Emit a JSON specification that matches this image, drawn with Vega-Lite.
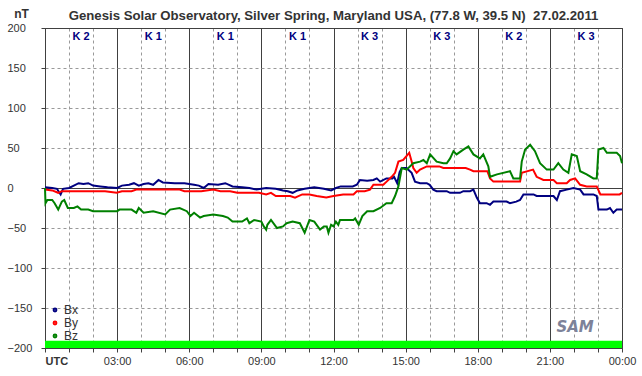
{
"$schema": "https://vega.github.io/schema/vega-lite/v6.json",
"width": 577, "height": 320,
"autosize": {"type": "none"},
"padding": {"left": 45, "top": 28, "right": 20, "bottom": 28},
"background": "white",
"config": {"view": {"stroke": "#404040", "strokeWidth": 1}, "font": "Liberation Sans"},
"title": {"text": "Genesis Solar Observatory, Silver Spring, Maryland USA, (77.8 W, 39.5 N)\u00a0 27.02.2011", "fontSize": 13.2, "fontWeight": "bold", "color": "#333333", "anchor": "middle", "frame": "group", "baseline": "alphabetic", "offset": -26, "font": "Liberation Sans"},
"encoding": {
 "x": {"field": "t", "type": "quantitative", "scale": {"domain": [0, 24], "nice": false, "zero": false},
  "axis": {"values": [0,1,2,3,4,5,6,7,8,9,10,11,12,13,14,15,16,17,18,19,20,21,22,23,24], "title": null,
   "labelExpr": "datum.value == 0 ? 'UTC' : (datum.value % 3 == 0 ? (((datum.value % 24) < 10 ? '0' : '') + (datum.value % 24) + ':00') : '')",
   "labelAlign": {"condition": {"test": "datum.value == 0", "value": "left"}, "value": "center"},
   "labelFontWeight": {"condition": {"test": "datum.value == 0", "value": "bold"}, "value": "normal"},
   "labelFlush": false, "labelOverlap": false, "labelFontSize": 11, "labelColor": "#333333", "labelPadding": 3,
   "tickSize": 4, "tickColor": "#404040", "domainColor": "#404040", "grid": true,
   "gridColor": {"condition": {"test": "datum.value % 3 == 0", "value": "#404040"}, "value": "#999999"},
   "gridDash": {"condition": {"test": "datum.value % 3 == 0", "value": []}, "value": [3, 3]}}},
 "y": {"field": "v", "type": "quantitative", "scale": {"domain": [-200, 200], "nice": false},
  "axis": {"values": [-200,-150,-100,-50,0,50,100,150,200], "title": "nT", "titleAngle": 0, "titleX": -24, "titleY": -15,
   "titleAlign": "center", "titleBaseline": "middle", "titleFontWeight": "bold", "titleFontSize": 12, "titleColor": "#333333",
   "labelAlign": "left", "labelPadding": 34, "labelFontSize": 11, "labelColor": "#333333", "labelBaseline": "middle",
   "tickSize": 4, "tickColor": "#404040", "domainColor": "#404040", "grid": true,
   "gridColor": {"condition": {"test": "datum.value == 0 || abs(datum.value) == 200", "value": "#404040"}, "value": "#999999"},
   "gridDash": {"condition": {"test": "datum.value == 0 || abs(datum.value) == 200", "value": []}, "value": [3, 3]}}}
},
"layer": [
 {"data": {"values": [{"t": 0, "t2": 24, "v": -200, "v2": -191}]},
  "mark": {"type": "rect", "color": "#00FF00"},
  "encoding": {"x2": {"field": "t2"}, "y2": {"field": "v2"}}},
 {"data": {"values": [
{"t":0,"s":"Bx","v":1},{"t":0.3,"s":"Bx","v":0},{"t":0.5,"s":"Bx","v":-1},{"t":0.58,"s":"Bx","v":-5},{"t":0.65,"s":"Bx","v":-8},{"t":0.75,"s":"Bx","v":-1},{"t":1.0,"s":"Bx","v":0},{"t":1.2,"s":"Bx","v":3},{"t":1.4,"s":"Bx","v":6},{"t":1.6,"s":"Bx","v":5},{"t":1.8,"s":"Bx","v":6},{"t":2.0,"s":"Bx","v":3},{"t":2.3,"s":"Bx","v":2},{"t":2.6,"s":"Bx","v":1},{"t":3.0,"s":"Bx","v":0},{"t":3.2,"s":"Bx","v":3},{"t":3.5,"s":"Bx","v":4},{"t":3.7,"s":"Bx","v":6},{"t":3.9,"s":"Bx","v":3},{"t":4.1,"s":"Bx","v":5},{"t":4.3,"s":"Bx","v":6},{"t":4.5,"s":"Bx","v":4},{"t":4.72,"s":"Bx","v":10},{"t":4.9,"s":"Bx","v":7},{"t":5.4,"s":"Bx","v":6},{"t":5.8,"s":"Bx","v":6},{"t":6.2,"s":"Bx","v":4},{"t":6.4,"s":"Bx","v":3},{"t":6.6,"s":"Bx","v":0},{"t":6.8,"s":"Bx","v":5},{"t":7.2,"s":"Bx","v":4},{"t":7.5,"s":"Bx","v":6},{"t":7.8,"s":"Bx","v":2},{"t":8.2,"s":"Bx","v":1},{"t":8.5,"s":"Bx","v":0},{"t":8.8,"s":"Bx","v":-2},{"t":9.2,"s":"Bx","v":0},{"t":9.6,"s":"Bx","v":-1},{"t":9.9,"s":"Bx","v":-3},{"t":10.1,"s":"Bx","v":-4},{"t":10.3,"s":"Bx","v":-6},{"t":10.5,"s":"Bx","v":-3},{"t":10.8,"s":"Bx","v":-1},{"t":11.2,"s":"Bx","v":1},{"t":11.6,"s":"Bx","v":-1},{"t":11.9,"s":"Bx","v":-3},{"t":12.1,"s":"Bx","v":0},{"t":12.3,"s":"Bx","v":2},{"t":12.8,"s":"Bx","v":2},{"t":12.97,"s":"Bx","v":4},{"t":13.1,"s":"Bx","v":10},{"t":13.4,"s":"Bx","v":9},{"t":13.66,"s":"Bx","v":10},{"t":13.8,"s":"Bx","v":12},{"t":13.94,"s":"Bx","v":8},{"t":14.2,"s":"Bx","v":12},{"t":14.45,"s":"Bx","v":12},{"t":14.52,"s":"Bx","v":14},{"t":14.65,"s":"Bx","v":6},{"t":14.75,"s":"Bx","v":20},{"t":14.84,"s":"Bx","v":25},{"t":15.04,"s":"Bx","v":25},{"t":15.1,"s":"Bx","v":23},{"t":15.25,"s":"Bx","v":19},{"t":15.39,"s":"Bx","v":8},{"t":15.6,"s":"Bx","v":6},{"t":15.88,"s":"Bx","v":6},{"t":16.0,"s":"Bx","v":4},{"t":16.15,"s":"Bx","v":-2},{"t":16.29,"s":"Bx","v":-4},{"t":16.71,"s":"Bx","v":-4},{"t":16.85,"s":"Bx","v":-6},{"t":17.26,"s":"Bx","v":-6},{"t":17.4,"s":"Bx","v":-4},{"t":17.68,"s":"Bx","v":-4},{"t":17.82,"s":"Bx","v":-2},{"t":17.96,"s":"Bx","v":-12},{"t":18.09,"s":"Bx","v":-19},{"t":18.37,"s":"Bx","v":-19},{"t":18.51,"s":"Bx","v":-21},{"t":18.65,"s":"Bx","v":-17},{"t":19.2,"s":"Bx","v":-17},{"t":19.34,"s":"Bx","v":-19},{"t":19.6,"s":"Bx","v":-17},{"t":19.76,"s":"Bx","v":-15},{"t":19.9,"s":"Bx","v":-8},{"t":20.32,"s":"Bx","v":-8},{"t":20.45,"s":"Bx","v":-10},{"t":21.15,"s":"Bx","v":-10},{"t":21.29,"s":"Bx","v":-15},{"t":21.42,"s":"Bx","v":-4},{"t":21.7,"s":"Bx","v":-2},{"t":21.98,"s":"Bx","v":0},{"t":22.26,"s":"Bx","v":-2},{"t":22.4,"s":"Bx","v":-8},{"t":22.81,"s":"Bx","v":-8},{"t":22.95,"s":"Bx","v":-10},{"t":23.02,"s":"Bx","v":-27},{"t":23.37,"s":"Bx","v":-27},{"t":23.5,"s":"Bx","v":-25},{"t":23.64,"s":"Bx","v":-31},{"t":23.78,"s":"Bx","v":-27},{"t":24,"s":"Bx","v":-27},
{"t":0,"s":"By","v":-2},{"t":0.3,"s":"By","v":-3},{"t":0.55,"s":"By","v":-6},{"t":0.7,"s":"By","v":-4},{"t":1.5,"s":"By","v":-4},{"t":2.5,"s":"By","v":-4},{"t":2.98,"s":"By","v":-6},{"t":3.2,"s":"By","v":-4},{"t":3.6,"s":"By","v":-4},{"t":3.8,"s":"By","v":-2},{"t":5.0,"s":"By","v":-2},{"t":5.6,"s":"By","v":-2},{"t":5.8,"s":"By","v":-4},{"t":6.5,"s":"By","v":-4},{"t":7.0,"s":"By","v":-2},{"t":7.3,"s":"By","v":-4},{"t":7.7,"s":"By","v":-4},{"t":8.0,"s":"By","v":-6},{"t":8.9,"s":"By","v":-6},{"t":9.2,"s":"By","v":-8},{"t":9.4,"s":"By","v":-6},{"t":9.6,"s":"By","v":-10},{"t":10.2,"s":"By","v":-10},{"t":10.4,"s":"By","v":-12},{"t":10.7,"s":"By","v":-8},{"t":11.0,"s":"By","v":-8},{"t":11.3,"s":"By","v":-10},{"t":11.7,"s":"By","v":-12},{"t":12.0,"s":"By","v":-10},{"t":12.4,"s":"By","v":-8},{"t":12.83,"s":"By","v":-8},{"t":12.97,"s":"By","v":-4},{"t":13.3,"s":"By","v":-4},{"t":13.52,"s":"By","v":-2},{"t":13.66,"s":"By","v":4},{"t":14.07,"s":"By","v":4},{"t":14.21,"s":"By","v":8},{"t":14.42,"s":"By","v":14},{"t":14.56,"s":"By","v":19},{"t":14.7,"s":"By","v":33},{"t":14.9,"s":"By","v":35},{"t":15.15,"s":"By","v":44},{"t":15.25,"s":"By","v":33},{"t":15.32,"s":"By","v":25},{"t":15.46,"s":"By","v":19},{"t":15.6,"s":"By","v":23},{"t":15.88,"s":"By","v":27},{"t":16.4,"s":"By","v":27},{"t":16.57,"s":"By","v":25},{"t":17.5,"s":"By","v":25},{"t":17.68,"s":"By","v":23},{"t":17.82,"s":"By","v":21},{"t":18.4,"s":"By","v":21},{"t":18.51,"s":"By","v":12},{"t":18.65,"s":"By","v":8},{"t":19.76,"s":"By","v":8},{"t":19.83,"s":"By","v":19},{"t":20.3,"s":"By","v":23},{"t":20.45,"s":"By","v":14},{"t":20.73,"s":"By","v":10},{"t":21.15,"s":"By","v":10},{"t":21.29,"s":"By","v":6},{"t":21.7,"s":"By","v":6},{"t":21.84,"s":"By","v":10},{"t":22.05,"s":"By","v":12},{"t":22.26,"s":"By","v":4},{"t":22.53,"s":"By","v":2},{"t":22.95,"s":"By","v":2},{"t":23.1,"s":"By","v":-8},{"t":23.9,"s":"By","v":-8},{"t":24,"s":"By","v":-6},
{"t":0,"s":"Bz","v":0},{"t":0.02,"s":"Bz","v":-19},{"t":0.1,"s":"Bz","v":-15},{"t":0.3,"s":"Bz","v":-15},{"t":0.4,"s":"Bz","v":-19},{"t":0.55,"s":"Bz","v":-27},{"t":0.7,"s":"Bz","v":-17},{"t":0.8,"s":"Bz","v":-15},{"t":0.95,"s":"Bz","v":-25},{"t":1.2,"s":"Bz","v":-25},{"t":1.35,"s":"Bz","v":-23},{"t":1.5,"s":"Bz","v":-27},{"t":1.8,"s":"Bz","v":-27},{"t":2.0,"s":"Bz","v":-29},{"t":2.5,"s":"Bz","v":-29},{"t":3.0,"s":"Bz","v":-29},{"t":3.1,"s":"Bz","v":-27},{"t":3.6,"s":"Bz","v":-27},{"t":3.8,"s":"Bz","v":-31},{"t":3.9,"s":"Bz","v":-25},{"t":4.1,"s":"Bz","v":-31},{"t":4.5,"s":"Bz","v":-29},{"t":5.0,"s":"Bz","v":-33},{"t":5.2,"s":"Bz","v":-27},{"t":5.6,"s":"Bz","v":-25},{"t":5.9,"s":"Bz","v":-29},{"t":6.05,"s":"Bz","v":-35},{"t":6.2,"s":"Bz","v":-31},{"t":6.45,"s":"Bz","v":-37},{"t":6.6,"s":"Bz","v":-35},{"t":7.0,"s":"Bz","v":-33},{"t":7.4,"s":"Bz","v":-35},{"t":7.6,"s":"Bz","v":-37},{"t":7.8,"s":"Bz","v":-42},{"t":8.2,"s":"Bz","v":-42},{"t":8.4,"s":"Bz","v":-38},{"t":8.5,"s":"Bz","v":-44},{"t":8.7,"s":"Bz","v":-40},{"t":9.0,"s":"Bz","v":-42},{"t":9.1,"s":"Bz","v":-48},{"t":9.2,"s":"Bz","v":-52},{"t":9.25,"s":"Bz","v":-46},{"t":9.4,"s":"Bz","v":-40},{"t":9.65,"s":"Bz","v":-50},{"t":9.9,"s":"Bz","v":-48},{"t":10.05,"s":"Bz","v":-44},{"t":10.3,"s":"Bz","v":-42},{"t":10.6,"s":"Bz","v":-44},{"t":10.8,"s":"Bz","v":-56},{"t":11.0,"s":"Bz","v":-40},{"t":11.2,"s":"Bz","v":-42},{"t":11.44,"s":"Bz","v":-52},{"t":11.6,"s":"Bz","v":-48},{"t":11.72,"s":"Bz","v":-48},{"t":11.79,"s":"Bz","v":-56},{"t":11.9,"s":"Bz","v":-46},{"t":12.0,"s":"Bz","v":-48},{"t":12.1,"s":"Bz","v":-42},{"t":12.2,"s":"Bz","v":-46},{"t":12.27,"s":"Bz","v":-40},{"t":12.6,"s":"Bz","v":-40},{"t":12.83,"s":"Bz","v":-40},{"t":12.9,"s":"Bz","v":-38},{"t":13.05,"s":"Bz","v":-46},{"t":13.2,"s":"Bz","v":-35},{"t":13.4,"s":"Bz","v":-29},{"t":13.66,"s":"Bz","v":-29},{"t":13.94,"s":"Bz","v":-25},{"t":14.2,"s":"Bz","v":-19},{"t":14.42,"s":"Bz","v":-19},{"t":14.56,"s":"Bz","v":-10},{"t":14.7,"s":"Bz","v":2},{"t":14.84,"s":"Bz","v":25},{"t":15.04,"s":"Bz","v":23},{"t":15.32,"s":"Bz","v":31},{"t":15.6,"s":"Bz","v":33},{"t":15.74,"s":"Bz","v":35},{"t":15.88,"s":"Bz","v":31},{"t":16.02,"s":"Bz","v":42},{"t":16.29,"s":"Bz","v":33},{"t":16.57,"s":"Bz","v":31},{"t":16.71,"s":"Bz","v":31},{"t":16.85,"s":"Bz","v":37},{"t":16.99,"s":"Bz","v":46},{"t":17.12,"s":"Bz","v":42},{"t":17.4,"s":"Bz","v":48},{"t":17.61,"s":"Bz","v":52},{"t":17.82,"s":"Bz","v":42},{"t":18.09,"s":"Bz","v":37},{"t":18.23,"s":"Bz","v":42},{"t":18.44,"s":"Bz","v":27},{"t":18.51,"s":"Bz","v":14},{"t":18.8,"s":"Bz","v":17},{"t":19.34,"s":"Bz","v":21},{"t":19.48,"s":"Bz","v":12},{"t":19.76,"s":"Bz","v":12},{"t":19.83,"s":"Bz","v":33},{"t":19.97,"s":"Bz","v":48},{"t":20.18,"s":"Bz","v":54},{"t":20.38,"s":"Bz","v":46},{"t":20.59,"s":"Bz","v":31},{"t":20.87,"s":"Bz","v":23},{"t":21.15,"s":"Bz","v":23},{"t":21.35,"s":"Bz","v":31},{"t":21.56,"s":"Bz","v":23},{"t":21.77,"s":"Bz","v":19},{"t":21.91,"s":"Bz","v":42},{"t":22.12,"s":"Bz","v":40},{"t":22.26,"s":"Bz","v":21},{"t":22.53,"s":"Bz","v":17},{"t":22.81,"s":"Bz","v":12},{"t":22.95,"s":"Bz","v":12},{"t":23.02,"s":"Bz","v":48},{"t":23.23,"s":"Bz","v":50},{"t":23.37,"s":"Bz","v":44},{"t":23.78,"s":"Bz","v":44},{"t":23.92,"s":"Bz","v":40},{"t":24,"s":"Bz","v":31}
 ]},
  "mark": {"type": "line", "strokeWidth": 2},
  "encoding": {"color": {"field": "s", "type": "nominal",
   "scale": {"domain": ["Bx", "By", "Bz"], "range": ["#000080", "#FF0000", "#008000"]},
   "legend": {"orient": "none", "legendX": 4, "legendY": 276, "title": null, "symbolType": "circle", "symbolSize": 8, "symbolStrokeWidth": 2, "labelFontSize": 12, "labelColor": "#333333", "labelOffset": 3, "rowPadding": 1, "padding": 0, "labelFont": "Liberation Sans"}}}},
 {"data": {"values": [{"t": 1.5, "v": 189, "k": "K 2"}, {"t": 4.5, "v": 189, "k": "K 1"}, {"t": 7.5, "v": 189, "k": "K 1"}, {"t": 10.5, "v": 189, "k": "K 1"}, {"t": 13.5, "v": 189, "k": "K 3"}, {"t": 16.5, "v": 189, "k": "K 3"}, {"t": 19.5, "v": 189, "k": "K 2"}, {"t": 22.5, "v": 189, "k": "K 3"}]},
  "mark": {"type": "text", "fontSize": 11, "fontWeight": "bold", "color": "#000080", "align": "center", "baseline": "middle", "font": "Liberation Sans"},
  "encoding": {"text": {"field": "k"}}},
 {"data": {"values": [{"t": 22.05, "v": -174, "k": "SAM"}]},
  "mark": {"type": "text", "fontSize": 15, "fontWeight": "bold", "fontStyle": "italic", "color": "#7d8299", "align": "center", "baseline": "middle", "font": "DejaVu Sans"},
  "encoding": {"text": {"field": "k"}}}
]
}
